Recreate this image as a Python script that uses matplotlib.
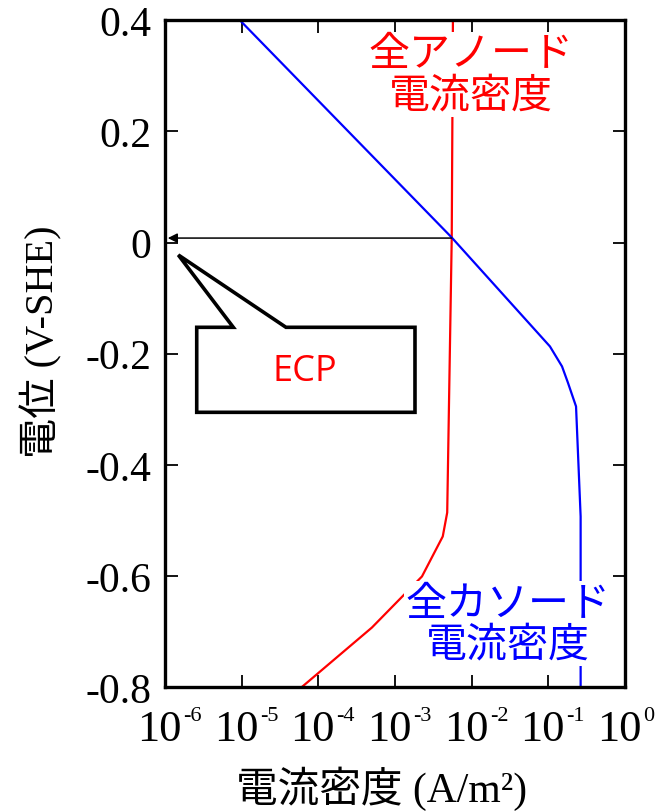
import matplotlib
matplotlib.use("Agg")
import matplotlib.pyplot as plt
from matplotlib.patches import Polygon

# ---------------- data ----------------
anode_current = [5.7e-3, 5.5e-3, 4.8e-3, 4.2e-3, 2.25e-3, 5.0e-4, 6.1e-5]
anode_potential = [0.40, 0.009, -0.486, -0.529, -0.601, -0.693, -0.80]

cathode_current = [9.5e-6, 5.5e-3, 0.105, 0.151, 0.180, 0.230, 0.264, 0.264]
cathode_potential = [0.40, 0.009, -0.187, -0.223, -0.252, -0.295, -0.493, -0.80]

ecp_current = 5.5e-3
ecp_potential = 0.008

x_ticks = [1e-6, 1e-5, 1e-4, 1e-3, 1e-2, 1e-1, 1e0]
x_tick_exponents = ["-6", "-5", "-4", "-3", "-2", "-1", "0"]
y_ticks = [-0.8, -0.6, -0.4, -0.2, 0.0, 0.2, 0.4]
y_tick_labels = ["-0.8", "-0.6", "-0.4", "-0.2", "0", "0.2", "0.4"]

anode_label = "全アノード\n電流密度"
cathode_label = "全カソード\n電流密度"
ecp_label = "ECP"
x_label = "電流密度 (A/m²)"
y_label = "電位 (V-SHE)"

# ---------------- style ----------------
SERIF = ["Liberation Serif", "Noto Sans CJK JP"]
CJK = ["Noto Sans CJK JP", "DejaVu Sans"]

fig = plt.figure(figsize=(6.56, 8.12), dpi=100)
ax = fig.add_axes([0.2515, 0.1527, 0.7012, 0.8211])

ax.plot(anode_current, anode_potential, color="#ff0000", lw=1.6, zorder=2)
ax.plot(cathode_current, cathode_potential, color="#0000ff", lw=1.6, zorder=2)

ax.set_xscale("log")
ax.set_xlim(1e-6, 1e0)
ax.set_ylim(-0.8, 0.4)

# ECP arrow
ax.annotate("", xy=(1e-6, ecp_potential), xytext=(ecp_current, ecp_potential),
            arrowprops=dict(arrowstyle="-|>", color="black", lw=1.1,
                            mutation_scale=14, shrinkA=0, shrinkB=2),
            zorder=3)

# spines & ticks
for s in ax.spines.values():
    s.set_linewidth(2.4)
ax.set_xticks(x_ticks)
ax.xaxis.set_minor_locator(matplotlib.ticker.NullLocator())
ax.set_yticks(y_ticks)
ax.set_yticklabels(y_tick_labels, fontfamily="Liberation Serif", fontsize=30)
ax.tick_params(which="both", direction="in", length=9, width=1.3,
               top=True, right=True, labelbottom=False)
ax.tick_params(axis="y", pad=10)

# x tick labels: "10" with a small exponent
for v, e in zip(x_ticks, x_tick_exponents):
    base = ax.annotate("10", xy=(v, 0), xycoords=ax.get_xaxis_transform(),
                       xytext=(-4, -16), textcoords="offset points",
                       ha="center", va="top", fontsize=32,
                       fontfamily="Liberation Serif")
    ax.annotate(e, xy=(1, 1), xycoords=base, xytext=(1, 2),
                textcoords="offset points", ha="left", va="top",
                fontsize=16, fontfamily="Liberation Serif")

# axis labels
ax.set_xlabel(x_label, fontsize=30, fontfamily=SERIF)
ax.xaxis.set_label_coords(0.47, -0.118)
ax.set_ylabel(y_label, fontsize=29, fontfamily=SERIF)
ax.yaxis.set_label_coords(-0.222, 0.52)

# curve labels with white background
ax.text(0.666, 0.919, anode_label, transform=ax.transAxes, color="#ff0000",
        fontsize=29.5, fontfamily=CJK, ha="center", va="center",
        multialignment="center", linespacing=1.0,
        bbox=dict(facecolor="white", edgecolor="none", pad=1), zorder=4)
ax.text(0.746, 0.095, cathode_label, transform=ax.transAxes, color="#0000ff",
        fontsize=29.5, fontfamily=CJK, ha="center", va="center",
        multialignment="center", linespacing=1.0,
        bbox=dict(facecolor="white", edgecolor="none", pad=1), zorder=4)

# ECP callout
callout = [(0.069, 0.5395), (0.1485, 0.5395), (0.029, 0.648), (0.263, 0.5395),
           (0.5435, 0.5395), (0.5435, 0.412), (0.069, 0.412)]
ax.add_patch(Polygon(callout, closed=True, transform=ax.transAxes,
                     facecolor="white", edgecolor="black", lw=2.6,
                     joinstyle="miter", zorder=5))
ax.text(0.304, 0.474, ecp_label, transform=ax.transAxes, color="#ff0000",
        fontsize=26, fontfamily="Open Sans", ha="center", va="center", zorder=6)

fig.savefig("out.png", dpi=100)
